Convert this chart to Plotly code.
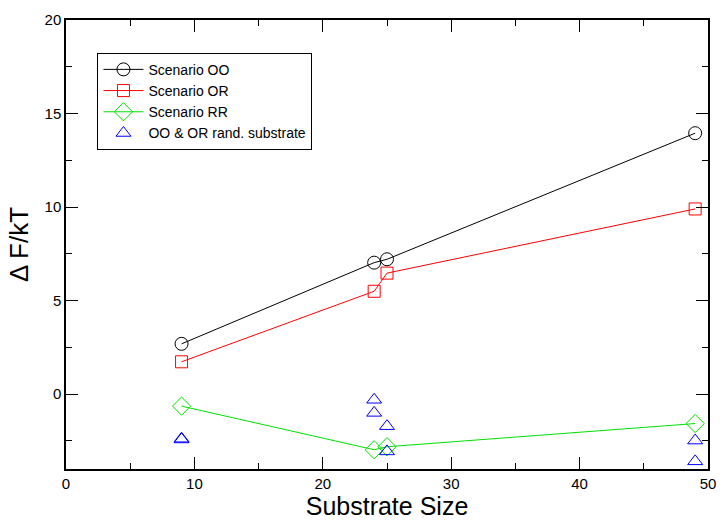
import plotly.graph_objects as go

sizes = [9, 24, 25, 49]
oo = [2.69, 7.03, 7.21, 13.95]
orr = [1.73, 5.50, 6.47, 9.90]
rr = [-0.64, -2.97, -2.81, -1.57]
rand_x = [9, 9, 24, 24, 25, 25, 49, 49]
rand_y = [-2.38, -2.42, -0.30, -1.00, -1.71, -3.06, -2.48, -3.59]

FONT = "Liberation Sans"
fig = go.Figure()
fig.add_trace(go.Scatter(x=sizes, y=oo, mode="lines+markers", name="Scenario OO",
                         line=dict(color="black", width=1),
                         marker=dict(symbol="circle-open", size=13, color="black", line=dict(width=1))))
fig.add_trace(go.Scatter(x=sizes, y=orr, mode="lines+markers", name="Scenario OR",
                         line=dict(color="red", width=1),
                         marker=dict(symbol="square-open", size=12, color="red", line=dict(width=1))))
fig.add_trace(go.Scatter(x=sizes, y=rr, mode="lines+markers", name="Scenario RR",
                         line=dict(color="#00e000", width=1),
                         marker=dict(symbol="diamond-open", size=14, color="#00e000", line=dict(width=1))))
fig.add_trace(go.Scatter(x=rand_x, y=rand_y, mode="markers", name="OO & OR rand. substrate",
                         marker=dict(symbol="triangle-up-open", size=13, color="blue", line=dict(width=1))))

axis_common = dict(showgrid=False, zeroline=False, showline=True, linecolor="black", linewidth=1.5,
                   mirror="ticks", ticks="inside", ticklen=12, tickcolor="black", tickwidth=1,
                   tickfont=dict(family=FONT, size=15, color="black"))
fig.update_xaxes(range=[0, 50], dtick=10, tick0=0,
                 minor=dict(ticks="inside", ticklen=6, dtick=5, tickcolor="black"),
                 title=dict(text="Substrate Size", font=dict(family=FONT, size=25, color="black"), standoff=4),
                 **axis_common)
fig.update_yaxes(range=[-4, 20], dtick=5, tick0=0,
                 minor=dict(ticks="inside", ticklen=6, dtick=2.5, tick0=0, tickcolor="black"),
                 title=dict(text="Δ F/kT", font=dict(family=FONT, size=26, color="black"), standoff=8),
                 **axis_common)
fig.update_layout(width=727, height=524, margin=dict(l=66, r=11, t=17, b=52),
                  plot_bgcolor="white", paper_bgcolor="white",
                  font=dict(family=FONT, color="black"),
                  legend=dict(x=0.049, y=0.927, xanchor="left", yanchor="top",
                              bordercolor="black", borderwidth=1, bgcolor="white",
                              font=dict(family=FONT, size=14, color="black"),
                              tracegroupgap=0, itemwidth=40))
fig.write_html("out.html")
